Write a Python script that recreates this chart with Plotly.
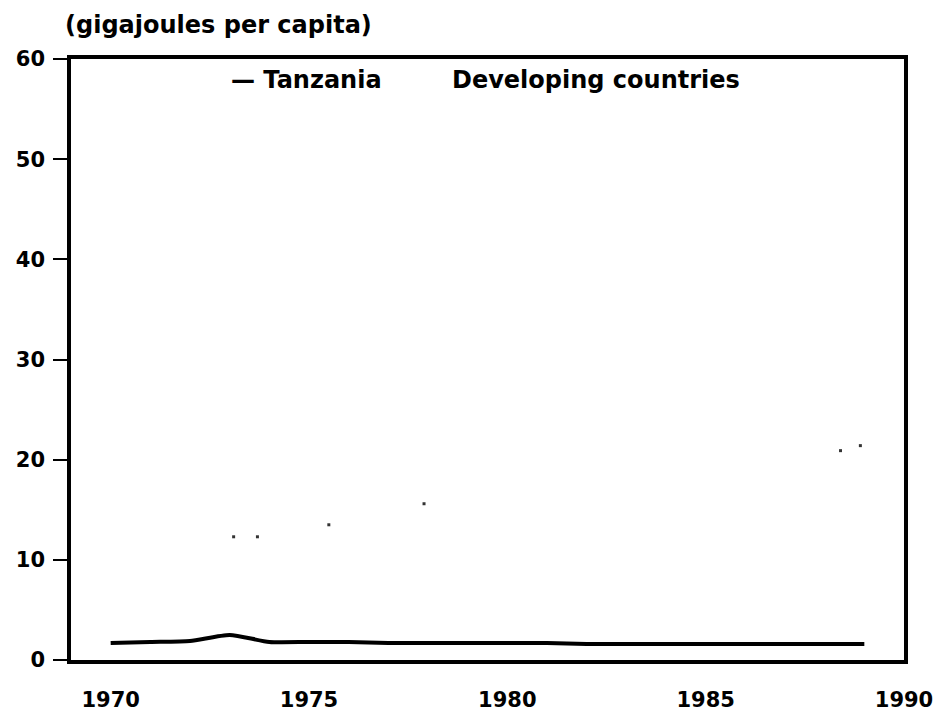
import plotly.graph_objects as go

years_tz = list(range(1970, 1990))
tanzania = [1.7, 1.8, 1.9, 2.5, 1.8, 1.8, 1.8, 1.7, 1.7, 1.7,
            1.7, 1.7, 1.6, 1.6, 1.6, 1.6, 1.6, 1.6, 1.6, 1.6]

# developing countries: only faint scattered dots survive in the scan
years_dev = [1973.1, 1973.7, 1975.5, 1977.9, 1988.4, 1988.9]
developing = [12.3, 12.3, 13.5, 15.6, 20.9, 21.4]

x_ticks = [1970, 1975, 1980, 1985, 1990]
y_ticks = [0, 10, 20, 30, 40, 50, 60]

FONT = "DejaVu Sans"

fig = go.Figure()
fig.add_trace(go.Scatter(
    x=years_dev, y=developing, mode="markers", name="Developing countries",
    marker=dict(size=3, color="#333333", symbol="square"),
    showlegend=False, hoverinfo="skip"))
fig.add_trace(go.Scatter(
    x=years_tz, y=tanzania, mode="lines", name="Tanzania",
    line=dict(color="black", width=4, shape="spline", smoothing=0.6),
    showlegend=False))

fig.update_layout(
    width=941, height=713,
    margin=dict(l=63, r=45, t=51, b=61),
    paper_bgcolor="white", plot_bgcolor="white",
    font=dict(family=FONT, color="black", size=21, weight="bold"),
    xaxis=dict(range=[1969, 1990], tickvals=x_ticks,
               ticktext=[str(v) for v in x_ticks],
               showgrid=False, zeroline=False, automargin=False,
               showline=True, linecolor="black", linewidth=3.5, mirror=True,
               ticks="", ticklabelstandoff=18,
               tickfont=dict(family=FONT, size=21, weight="bold")),
    yaxis=dict(range=[0, 60], tickvals=y_ticks,
               showgrid=False, zeroline=False, automargin=False,
               showline=True, linecolor="black", linewidth=3.5, mirror=True,
               ticks="outside", ticklen=14, tickwidth=2, tickcolor="black",
               ticklabelstandoff=4,
               tickfont=dict(family=FONT, size=21, weight="bold")),
    annotations=[
        dict(text="(gigajoules per capita)", xref="paper", yref="paper",
             x=-0.01, y=1.057, xanchor="left", yanchor="middle",
             showarrow=False, font=dict(size=24, family=FONT, weight="bold")),
        dict(text="— Tanzania", xref="paper", yref="paper",
             x=0.19, y=0.965, xanchor="left", yanchor="middle",
             showarrow=False, font=dict(size=24, family=FONT, weight="bold")),
        dict(text="Developing countries", xref="paper", yref="paper",
             x=0.455, y=0.965, xanchor="left", yanchor="middle",
             showarrow=False, font=dict(size=24, family=FONT, weight="bold")),
    ],
)

fig.write_html("out.html")
